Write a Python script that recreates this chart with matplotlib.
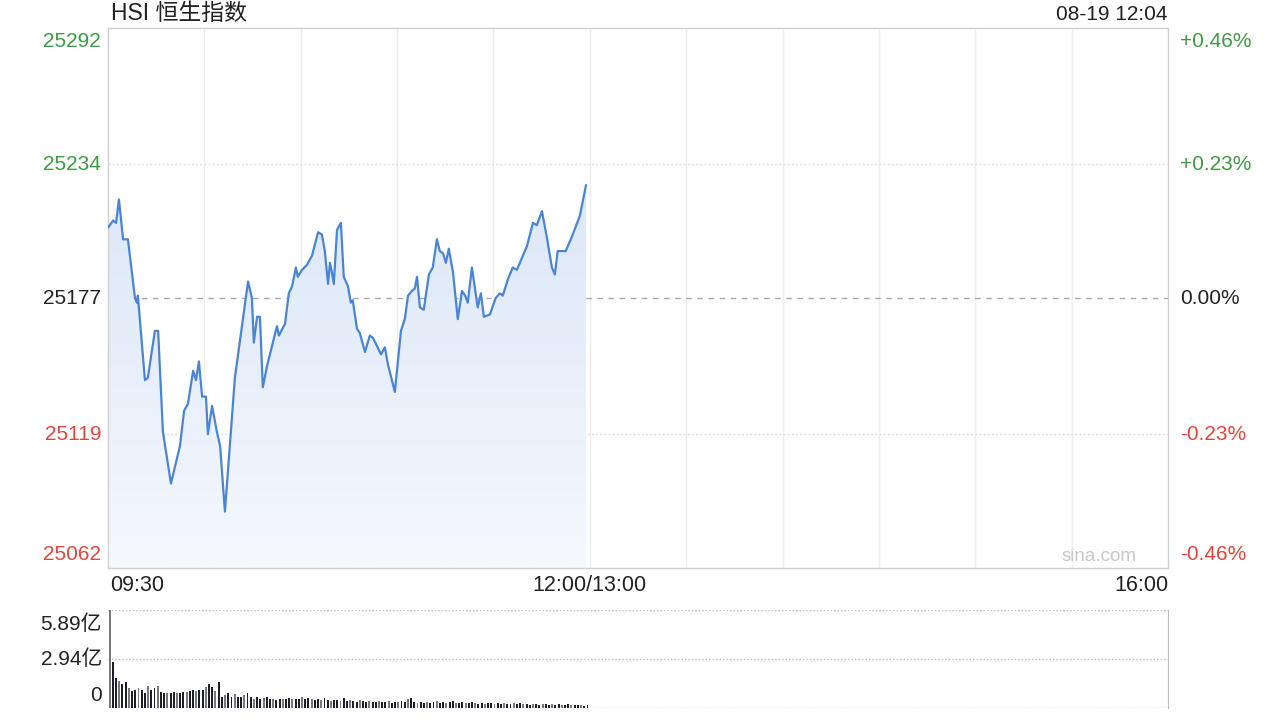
import numpy as np
import matplotlib
matplotlib.use("Agg")
import matplotlib.pyplot as plt
from matplotlib.patches import Polygon
from matplotlib.colors import LinearSegmentedColormap

plt.rcParams['font.family'] = ['Liberation Sans', 'Noto Sans CJK SC', 'DejaVu Sans']

# ---- data ----
title = "HSI 恒生指数"
stamp = "08-19 12:04"
prev_close = 25177
y_ticks = [25292, 25234, 25177, 25119, 25062]
pct_labels = ["+0.46%", "+0.23%", "0.00%", "-0.23%", "-0.46%"]
x_labels = ["09:30", "12:00/13:00", "16:00"]
vol_labels = ["5.89亿", "2.94亿", "0"]
vol_ticks = [5.89, 2.94, 0]

# minutes since 09:30 (trading minutes, lunch break removed)
minutes = [0, 1.6, 2.5, 3.4, 4.7, 6.2, 8.4, 9.0, 9.3, 11.5, 12.4, 14.6, 15.6, 17.1, 19.6,
           22.4, 23.7, 24.9, 26.5, 27.4, 28.3, 29.3, 30.5, 31.1, 32.4, 33.9, 34.9, 36.4,
           39.5, 41.1, 43.6, 44.8, 45.4, 46.4, 47.3, 48.2, 49.5, 52.6, 53.2, 55.1, 56.3,
           57.3, 58.5, 59.1, 60.4, 61.9, 63.5, 65.4, 66.6, 67.5, 68.5, 69.1, 69.7, 70.3,
           71.3, 72.5, 73.4, 74.7, 75.6, 76.2, 77.5, 78.4, 80.0, 81.5, 82.5, 85.0, 86.2,
           87.1, 89.3, 91.2, 92.4, 93.4, 94.6, 95.5, 96.2, 97.1, 98.3, 99.9, 101.1, 102.4,
           103.3, 104.3, 105.2, 106.1, 107.4, 108.9, 110.2, 111.2, 112.0, 113.3, 115.1,
           116.1, 117.0, 118.9, 120.7, 122.0, 122.9, 124.5, 126.0, 127.3, 130.4, 132.3,
           133.5, 135.1, 136.6, 138.2, 139.1, 140.0, 142.5, 144.4, 146.9, 148.8]
prices = [25207, 25210, 25209, 25219, 25202, 25202, 25177, 25175, 25178, 25142, 25143,
          25163, 25163, 25120, 25098, 25114, 25129, 25132, 25146, 25142, 25150, 25135,
          25135, 25119, 25131, 25120, 25114, 25086, 25143, 25159, 25184, 25177, 25158,
          25169, 25169, 25139, 25148, 25165, 25161, 25166, 25179, 25182, 25190, 25186,
          25189, 25191, 25195, 25205, 25204, 25197, 25183, 25192, 25188, 25183, 25206,
          25209, 25186, 25182, 25175, 25176, 25164, 25162, 25154, 25161, 25160, 25153,
          25156, 25149, 25137, 25163, 25168, 25178, 25180, 25181, 25186, 25173, 25172,
          25187, 25190, 25202, 25197, 25196, 25192, 25198, 25188, 25168, 25180, 25178,
          25175, 25190, 25173, 25179, 25169, 25170, 25177, 25179, 25178, 25185, 25190,
          25189, 25199, 25209, 25208, 25214, 25203, 25190, 25187, 25197, 25197, 25203,
          25212, 25225]

vol_minutes = list(range(150))
volumes = [5.89, 2.76, 1.80, 1.62, 1.44, 1.56, 1.20, 1.02, 1.08, 1.20, 1.08, 0.90, 1.32,
           1.08, 1.20, 1.32, 0.96, 0.90, 0.90, 0.90, 0.96, 0.90, 0.90, 0.96, 0.96, 1.02,
           1.08, 1.02, 1.08, 1.08, 1.26, 1.44, 1.26, 1.02, 1.56, 0.66, 0.78, 0.90, 0.66,
           0.84, 0.66, 0.66, 0.78, 0.90, 0.66, 0.54, 0.66, 0.54, 0.60, 0.66, 0.54, 0.54,
           0.48, 0.54, 0.54, 0.54, 0.60, 0.54, 0.54, 0.54, 0.66, 0.54, 0.60, 0.54, 0.48,
           0.54, 0.48, 0.60, 0.48, 0.42, 0.48, 0.48, 0.42, 0.60, 0.42, 0.48, 0.42, 0.36,
           0.48, 0.42, 0.36, 0.42, 0.36, 0.36, 0.42, 0.36, 0.36, 0.42, 0.30, 0.36, 0.36,
           0.42, 0.36, 0.54, 0.60, 0.36, 0.30, 0.36, 0.30, 0.36, 0.30, 0.36, 0.42, 0.30,
           0.36, 0.30, 0.36, 0.42, 0.30, 0.30, 0.36, 0.30, 0.30, 0.36, 0.30, 0.24, 0.30,
           0.24, 0.30, 0.30, 0.24, 0.30, 0.24, 0.30, 0.24, 0.24, 0.30, 0.24, 0.30, 0.24,
           0.24, 0.18, 0.24, 0.24, 0.18, 0.24, 0.24, 0.18, 0.24, 0.18, 0.24, 0.18, 0.18,
           0.24, 0.18, 0.18, 0.18, 0.18, 0.12, 0.18]

TOTAL_MIN = 330
GREEN = "#3f9a44"
RED = "#e0473c"
DARK = "#222222"
LINE = "#4a84d6"
FS = 15

fig = plt.figure(figsize=(12.8, 7.2), dpi=100)
fig.patch.set_facecolor("white")

ax = fig.add_axes([108/1280, 1 - 568/720, 1060/1280, 540/720])
ax.set_xticks([])
ax.set_yticks([])
for s in ax.spines.values():
    s.set_color("#d0d0d0")
    s.set_linewidth(1.0)

# grid
for m in range(30, TOTAL_MIN, 30):
    ax.axvline(m, color="#ededed", lw=1.0, zorder=0)
for v in (y_ticks[1], y_ticks[3]):
    ax.axhline(v, color="#dddddd", lw=1.0, ls=(0, (1.5, 1.5)), zorder=0)
ax.axhline(prev_close, color="#a8a8a8", lw=1.0, ls=(0, (4, 4)), zorder=1)

# gradient fill under line
xs = np.array(minutes)
ys = np.array(prices)
verts = [(xs[0], y_ticks[-1])] + list(zip(xs, ys)) + [(xs[-1], y_ticks[-1])]
poly = Polygon(verts, closed=True, facecolor="none", edgecolor="none")
ax.add_patch(poly)
grad = np.linspace(1, 0, 256).reshape(-1, 1)
cmap = LinearSegmentedColormap.from_list("g", ["#f5f8fd", "#dce7f8"])
im = ax.imshow(grad, extent=[xs[0], xs[-1], y_ticks[-1], max(prices)], aspect="auto",
               cmap=cmap, origin="upper", zorder=1)
im.set_clip_path(poly)
ax.set_xlim(0, TOTAL_MIN)
ax.set_ylim(y_ticks[-1], y_ticks[0])

ax.plot(xs, ys, color=LINE, lw=1.6, zorder=3, solid_joinstyle="round")

# y labels
left_colors = [GREEN, GREEN, DARK, RED, RED]
vas = ["top", "center", "center", "center", "bottom"]
offs = [-4, 0, 0, 0, 4]
for v, pl, c, va, o in zip(y_ticks, pct_labels, left_colors, vas, offs):
    ax.annotate(str(v), xy=(0, v), xycoords=("axes fraction", "data"), xytext=(-7, o),
                textcoords="offset pixels", ha="right", va=va, color=c, fontsize=FS)
    ax.annotate(pl, xy=(1, v), xycoords=("axes fraction", "data"), xytext=(12, o),
                textcoords="offset pixels", ha="left", va=va, color=c, fontsize=FS)

# x labels
ax.annotate(x_labels[0], xy=(0, 0), xycoords="axes fraction", xytext=(2, -7),
            textcoords="offset pixels", ha="left", va="top", color=DARK, fontsize=15.5)
ax.annotate(x_labels[1], xy=(150, 0), xycoords=("data", "axes fraction"), xytext=(0, -7),
            textcoords="offset pixels", ha="center", va="top", color=DARK, fontsize=15.5)
ax.annotate(x_labels[2], xy=(1, 0), xycoords="axes fraction", xytext=(0, -7),
            textcoords="offset pixels", ha="right", va="top", color=DARK, fontsize=15.5)

ax.annotate(title, xy=(0, 1), xycoords="axes fraction", xytext=(3, 3),
            textcoords="offset pixels", ha="left", va="bottom", color=DARK, fontsize=16.5)
ax.annotate(stamp, xy=(1, 1), xycoords="axes fraction", xytext=(0, 4),
            textcoords="offset pixels", ha="right", va="bottom", color=DARK, fontsize=15)
ax.text(0.97, 0.005, "sina.com", transform=ax.transAxes, ha="right", va="bottom",
        color="#c8c8c8", fontsize=13.5)

# volume panel
vax = fig.add_axes([108/1280, 1 - 708/720, 1060/1280, 98/720])
vax.set_xlim(-0.5, TOTAL_MIN)
vax.set_ylim(0, vol_ticks[0])
vax.set_xticks([])
vax.set_yticks([])
for k in ("top", "bottom", "left"):
    vax.spines[k].set_visible(False)
vax.spines["right"].set_color("#bbbbbb")
for v in vol_ticks:
    vax.axhline(v, color="#bbbbbb", lw=1.0, ls=(0, (1, 1.5)), zorder=0)
bar_colors = ["#1e1e2a" if i % 3 else "#77777f" for i in range(len(volumes))]
vax.bar(vol_minutes, volumes, width=0.6, color=bar_colors, zorder=2)

vvas = ["top", "center", "bottom"]
voffs = [-4, 0, 3]
for v, lab, va, o in zip(vol_ticks, vol_labels, vvas, voffs):
    vax.annotate(lab, xy=(0, v), xycoords=("axes fraction", "data"), xytext=(-6, o),
                 textcoords="offset pixels", ha="right", va=va, color=DARK, fontsize=15)

fig.savefig("out.png", dpi=100, facecolor="white")
